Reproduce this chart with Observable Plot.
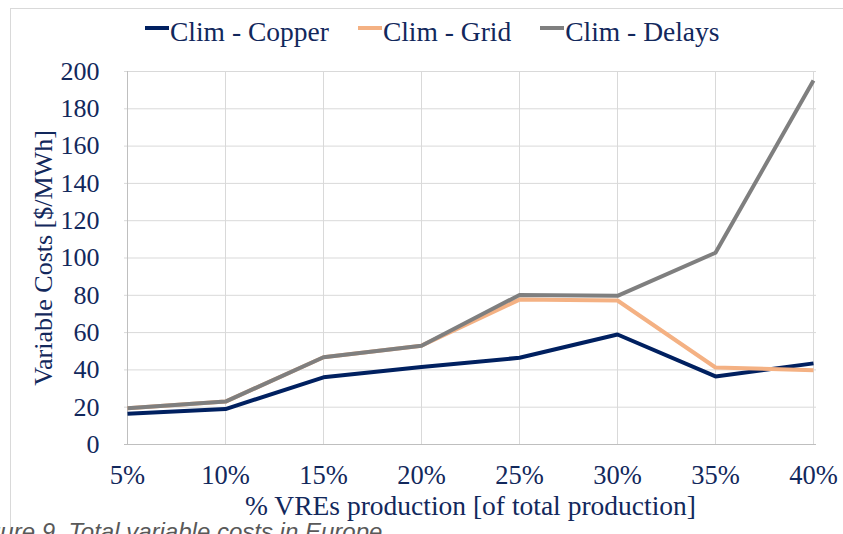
<!DOCTYPE html>
<html>
<head>
<meta charset="utf-8">
<script src="https://cdn.jsdelivr.net/npm/d3@7"></script>
<script src="https://cdn.jsdelivr.net/npm/@observablehq/plot@0.6"></script>
<style>
  body { margin: 0; background: #fff; overflow: hidden; }
  #wrap { position: relative; width: 843px; height: 534px; overflow: hidden; font-family: "Liberation Serif", "DejaVu Serif", serif; color: #12285c; background: #fff; }
  #frame { position: absolute; left: 10px; top: 8px; width: 850px; height: 540px; border-top: 1px solid #d9d9d9; border-left: 1px solid #d9d9d9; box-sizing: border-box; }
  #legend { position: absolute; left: 145px; top: 0; height: 55px; padding-top: 9px; box-sizing: border-box; display: flex; align-items: center; gap: 29px; font-size: 27.5px; line-height: 1; white-space: nowrap; }
  .item { display: flex; align-items: center; }
  .sw { display: inline-block; width: 24px; height: 4px; margin-right: 1px; position: relative; top: -4px; }
  #chart { position: absolute; left: 0; top: 55px; }
  #caption { position: absolute; left: -33px; top: 520px; font-family: "Liberation Sans", Arial, sans-serif; font-style: italic; font-size: 24px; line-height: 24px; color: #595959; white-space: nowrap; }
</style>
</head>
<body>
<div id="wrap">
  <div id="frame"></div>
  <div id="legend"></div>
  <div id="chart"></div>
  <div id="caption"></div>
</div>
<script>
const xLabels = ["5%", "10%", "15%", "20%", "25%", "30%", "35%", "40%"];
const copper = [16.5, 19, 36, 41.5, 46.5, 59, 36.5, 43.5];
const grid   = [19.5, 23, 46.8, 53, 77.7, 77.2, 41.3, 39.8];
const delays = [19.5, 23, 46.8, 53, 80.2, 79.7, 102.8, 195.2];
const seriesNames = ["Clim - Copper", "Clim - Grid", "Clim - Delays"];
const seriesColors = ["#002060", "#F4B183", "#7F7F7F"];
const yTicks = [0, 20, 40, 60, 80, 100, 120, 140, 160, 180, 200];
const xTitle = "% VREs production [of total production]";
const yTitle = "Variable Costs [$/MWh]";
const captionText = "Figure 9. Total variable costs in Europe";

const seriesValues = [copper, grid, delays];
const rows = [];
seriesNames.forEach((name, i) => {
  xLabels.forEach((x, j) => rows.push({ series: name, x, y: seriesValues[i][j] }));
});

// Legend
const legend = document.getElementById("legend");
seriesNames.forEach((name, i) => {
  const item = document.createElement("div");
  item.className = "item";
  const sw = document.createElement("span");
  sw.className = "sw";
  sw.style.background = seriesColors[i];
  const label = document.createElement("span");
  label.textContent = name;
  item.appendChild(sw);
  item.appendChild(label);
  legend.appendChild(item);
});

document.getElementById("caption").textContent = captionText;

const serif = "'Liberation Serif', 'DejaVu Serif', serif";
const chart = Plot.plot({
  width: 843,
  height: 469,
  marginTop: 16,
  marginBottom: 80,
  marginLeft: 124,
  marginRight: 27,
  style: { fontFamily: serif, fontSize: "26px", color: "#12285c", background: "transparent", overflow: "visible" },
  x: { type: "point", domain: xLabels, padding: 0 },
  y: { domain: [0, 200] },
  color: { domain: seriesNames, range: seriesColors },
  marks: [
    Plot.ruleY(yTicks, { stroke: "#d9d9d9", strokeWidth: 1 }),
    Plot.ruleX(xLabels, { stroke: "#d9d9d9", strokeWidth: 1 }),
    Plot.ruleX([xLabels[0]], { stroke: "#bfbfbf", strokeWidth: 1 }),
    Plot.ruleY([0], { stroke: "#bfbfbf", strokeWidth: 1 }),
    Plot.axisY({ ticks: yTicks, tickSize: 0, tickPadding: 25, label: null, fontSize: 26, fontFamily: serif }),
    Plot.axisX({ tickSize: 0, tickPadding: 21, label: null, fontSize: 26.5, fontFamily: serif }),
    Plot.line(rows, { x: "x", y: "y", z: "series", stroke: "series", strokeWidth: 4, strokeLinejoin: "round", strokeLinecap: "butt" }),
    Plot.text([yTitle], { frameAnchor: "left", textAnchor: "middle", lineAnchor: "middle", rotate: -90, dx: -81, fontSize: 26, fontFamily: serif }),
    Plot.text([xTitle], { frameAnchor: "bottom", textAnchor: "middle", lineAnchor: "middle", dy: 62, fontSize: 27.5, fontFamily: serif })
  ]
});
document.getElementById("chart").appendChild(chart);
</script>
</body>
</html>
